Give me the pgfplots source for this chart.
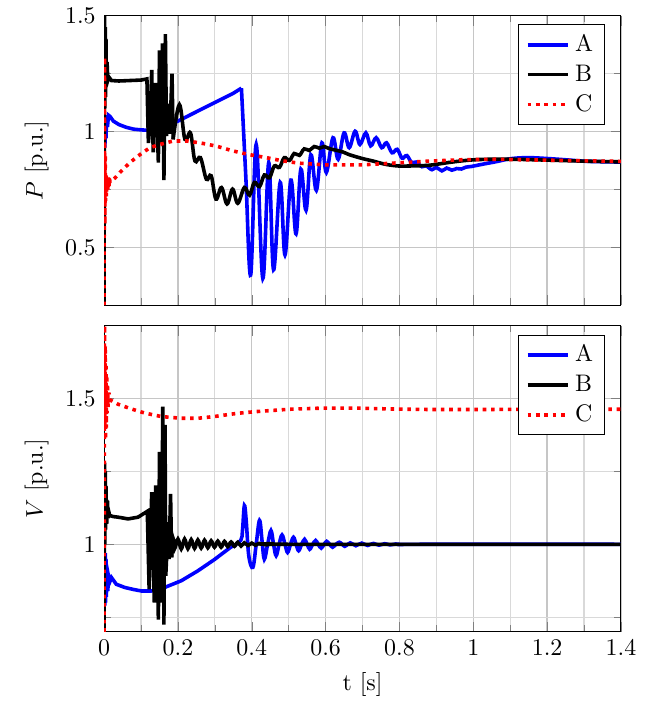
\documentclass[border=0pt]{standalone}
\usepackage{pgfplots}
\pgfplotsset{compat=1.18}

\pgfplotsset{
  resp/.style={
    width=216pt, scale only axis,
    xmin=0, xmax=1.4,
    xtick={0,0.2,...,1.4},
    minor x tick num=1,
    minor y tick num=1,
    grid=both,
    major grid style={gray!45, line width=0.5pt},
    minor grid style={gray!30, line width=0.5pt},
    legend style={at={(0.97,0.97)}, anchor=north east, font=\normalsize},
    legend cell align=left,
    every axis plot/.append style={line width=1.5pt},
    label style={font=\normalsize},
  },
  osc/.style={smooth, tension=0.6, forget plot},
}

\begin{document}
\begin{tikzpicture}
\begin{axis}[resp, name=top, height=121pt,
  ymin=0.25, ymax=1.5, ytick={0.5,1,1.5},
  xticklabels={},
  ylabel={$P$ [p.u.]}]
% A: sharp part, then the damped swing
\addplot[blue] coordinates {
(0.002,0.93)(0.004,1.05)(0.005,0.97)(0.007,1.07)(0.009,1.02)(0.012,1.07)(0.016,1.065)
(0.025,1.045)(0.04,1.03)(0.06,1.018)(0.08,1.01)(0.1,1.007)(0.12,1.005)(0.15,1.01)
(0.2,1.045)(0.25,1.085)(0.3,1.125)(0.35,1.165)(0.372,1.187)};
\addlegendentry{A}
\addplot[blue, osc] coordinates {
(0.372,1.187)(0.384,0.80)(0.397,0.38)(0.412,0.944)(0.430,0.366)(0.446,0.866)(0.459,0.403)
(0.477,0.78)(0.490,0.467)(0.506,0.79)(0.520,0.558)(0.533,0.837)(0.547,0.66)(0.560,0.90)
(0.575,0.746)(0.59,0.951)(0.602,0.823)(0.620,0.973)(0.634,0.88)(0.650,0.994)(0.664,0.93)
(0.680,1.001)(0.693,0.944)(0.709,0.994)(0.722,0.938)(0.737,0.973)(0.752,0.93)(0.765,0.951)
(0.78,0.908)(0.794,0.923)(0.807,0.885)(0.82,0.896)(0.833,0.866)(0.845,0.868)(0.861,0.848)
(0.872,0.852)(0.888,0.835)(0.90,0.845)(0.915,0.83)(0.928,0.842)(0.942,0.833)(0.955,0.84)
(0.968,0.838)(0.98,0.846)(0.995,0.849)(1.023,0.858)(1.06,0.869)(1.104,0.883)(1.15,0.887)
(1.203,0.883)(1.257,0.877)(1.31,0.871)(1.4,0.868)};
% B
\addplot[black] coordinates {
(0,0.25)(0.001,1.5)(0.002,1.1)(0.003,1.45)(0.004,1.15)(0.005,1.40)(0.006,1.2)(0.008,1.30)
(0.010,1.22)(0.013,1.235)(0.02,1.22)(0.04,1.218)(0.07,1.22)(0.1,1.222)(0.116,1.227)
(0.12,0.95)(0.125,1.05)(0.129,1.266)(0.133,0.91)(0.137,1.1)(0.14,1.21)(0.147,0.866)
(0.15,1.35)(0.155,0.95)(0.158,1.38)(0.162,0.79)(0.166,1.42)(0.169,0.98)(0.174,1.12)
(0.178,0.99)(0.184,1.25)(0.187,0.966)};
\addlegendentry{B}
\addplot[black, osc] coordinates {
(0.187,0.966)(0.204,1.116)(0.219,0.966)(0.234,0.994)(0.246,0.873)(0.261,0.887)(0.277,0.794)
(0.29,0.809)(0.303,0.708)(0.318,0.758)(0.333,0.687)(0.348,0.751)(0.362,0.690)(0.38,0.758)
(0.394,0.725)(0.407,0.78)(0.421,0.762)(0.434,0.812)(0.448,0.80)(0.461,0.851)(0.475,0.845)
(0.488,0.887)(0.502,0.875)(0.515,0.905)(0.529,0.897)(0.542,0.925)(0.556,0.918)(0.569,0.935)
(0.583,0.928)(0.596,0.935)(0.61,0.926)(0.646,0.912)(0.664,0.90)(0.7,0.883)(0.727,0.873)
(0.763,0.858)(0.798,0.851)(0.825,0.851)(0.879,0.854)(0.933,0.866)(0.987,0.876)(1.04,0.88)
(1.11,0.88)(1.185,0.877)(1.3,0.872)(1.4,0.869)};
% C
\addplot[red, dotted] coordinates {
(0,0.25)(0.001,1.32)(0.002,0.6)(0.003,0.9)(0.004,0.7)(0.005,0.82)(0.006,0.72)(0.008,0.8)
(0.01,0.75)(0.012,0.8)(0.014,0.76)(0.016,0.79)(0.02,0.785)(0.03,0.80)(0.043,0.823)
(0.07,0.866)(0.097,0.90)(0.124,0.93)(0.151,0.944)(0.187,0.959)(0.223,0.959)(0.259,0.951)
(0.304,0.937)(0.349,0.916)(0.394,0.90)(0.439,0.887)(0.484,0.873)(0.529,0.863)(0.6,0.856)
(0.7,0.856)(0.79,0.864)(0.879,0.872)(0.969,0.878)(1.06,0.88)(1.2,0.876)(1.4,0.871)};
\addlegendentry{C}
\end{axis}

\begin{axis}[resp, at={(top.south west)}, anchor=north west, yshift=-8.5pt,
  height=128pt,
  ymin=0.7, ymax=1.75, ytick={1,1.5}, minor ytick={0.75,1.25},
  xlabel={t [s]},
  ylabel={$V$ [p.u.]}]
% A
\addplot[blue] coordinates {
(0.002,0.79)(0.003,0.97)(0.004,0.80)(0.005,0.95)(0.006,0.82)(0.008,0.9)(0.01,0.84)
(0.012,0.89)(0.015,0.87)(0.02,0.886)(0.033,0.863)(0.056,0.852)(0.08,0.845)(0.101,0.840)
(0.128,0.840)(0.164,0.852)(0.209,0.875)(0.254,0.909)(0.298,0.947)(0.343,0.99)};
\addlegendentry{A}
\addplot[blue, osc] coordinates {
(0.343,0.99)(0.37,1.013)
(0.375,1.05)(0.380,1.133)(0.385,1.08)(0.392,0.96)(0.403,0.921)(0.412,1.0)(0.421,1.082)
(0.428,1.01)(0.434,0.949)(0.443,1.0)(0.452,1.047)(0.459,1.0)(0.466,0.961)(0.474,1.0)
(0.482,1.032)(0.49,1.0)(0.497,0.972)(0.505,1.0)(0.513,1.024)(0.52,1.0)(0.527,0.978)
(0.535,1.0)(0.543,1.017)(0.55,1.0)(0.557,0.983)(0.565,1.0)(0.573,1.013)(0.58,1.0)
(0.588,0.987)(0.596,1.0)(0.603,1.01)(0.611,1.0)(0.619,0.99)(0.628,1.0)(0.637,1.007)
(0.645,1.0)(0.652,0.993)(0.66,1.0)(0.667,1.005)(0.675,1.0)(0.682,0.995)(0.69,1.0)
(0.698,1.004)(0.706,1.0)(0.714,0.996)(0.722,1.0)(0.73,1.003)(0.745,0.997)(0.76,1.002)
(0.775,0.998)(0.79,1.001)(0.81,0.999)(0.85,1.0)(1.4,1.0)};
% B
\addplot[black] coordinates {
(0,0.7)(0.001,1.28)(0.002,1.0)(0.003,1.25)(0.004,1.05)(0.005,1.2)(0.007,1.07)(0.009,1.15)
(0.011,1.09)(0.013,1.11)(0.015,1.099)(0.025,1.095)(0.038,1.093)(0.065,1.087)(0.092,1.093)
(0.117,1.113)(0.122,0.846)(0.129,1.179)(0.136,0.80)(0.14,1.202)(0.147,0.742)(0.15,1.317)
(0.155,0.80)(0.159,1.472)(0.162,0.725)(0.165,1.409)(0.167,0.892)(0.174,1.076)(0.176,0.949)
(0.180,1.173)(0.183,0.955)};
\addlegendentry{B}
\addplot[black, osc] coordinates {
(0.183,0.955)(0.187,1.02)(0.191,0.985)(0.2,1.018)(0.209,0.984)(0.218,1.018)
(0.227,0.985)(0.236,1.016)(0.245,0.986)(0.254,1.015)(0.263,0.987)(0.272,1.014)(0.281,0.988)
(0.29,1.012)(0.299,0.99)(0.308,1.011)(0.317,0.99)(0.326,1.01)(0.335,0.992)(0.344,1.008)
(0.353,0.993)(0.362,1.007)(0.371,0.994)(0.38,1.005)(0.39,0.996)(0.40,1.004)(0.41,0.997)
(0.42,1.003)(0.44,0.998)(0.46,1.002)(0.5,1.0)(1.4,1.0)};
% C
\addplot[red, dotted] coordinates {
(0,0.7)(0.001,1.75)(0.002,1.4)(0.003,1.68)(0.004,1.36)(0.005,1.62)(0.006,1.4)(0.007,1.58)
(0.008,1.45)(0.009,1.55)(0.011,1.47)(0.013,1.52)(0.015,1.496)(0.038,1.48)(0.074,1.464)
(0.11,1.45)(0.155,1.438)(0.209,1.432)(0.254,1.432)(0.298,1.438)(0.361,1.449)(0.412,1.455)
(0.502,1.463)(0.592,1.467)(0.682,1.467)(0.772,1.464)(0.888,1.462)(1.0,1.462)(1.2,1.463)
(1.4,1.463)};
\addlegendentry{C}
\end{axis}
% white margins as in the reference
\path ([xshift=-7pt]current bounding box.west);
\path ([xshift=9pt]current bounding box.east);
\end{tikzpicture}
\end{document}
